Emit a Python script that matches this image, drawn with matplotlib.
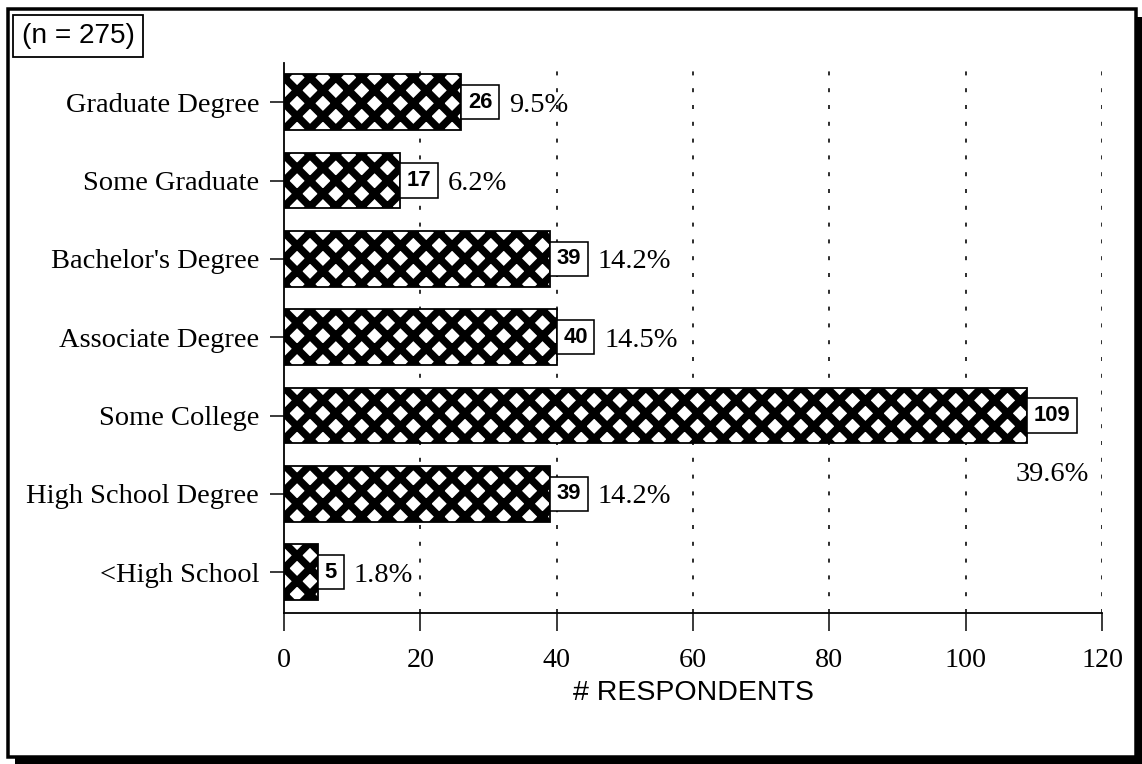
import matplotlib
matplotlib.use("Agg")
import matplotlib.pyplot as plt
from matplotlib.patches import Rectangle

# Education level of respondents
categories = ["<High School", "High School Degree", "Some College",
              "Associate Degree", "Bachelor's Degree", "Some Graduate",
              "Graduate Degree"]
counts = [5, 39, 109, 40, 39, 17, 26]
percents = ["1.8%", "14.2%", "39.6%", "14.5%", "14.2%", "6.2%", "9.5%"]
x_ticks = [0, 20, 40, 60, 80, 100, 120]
sample_label = "(n = 275)"
x_title = "# RESPONDENTS"

# The hatch tile follows the dpi, so the dpi sets the diamond size
DPI = 155
W, H = 1142, 764


def pt(px):
    """Convert a size in output pixels to points."""
    return px * 72.0 / DPI


plt.rcParams["hatch.linewidth"] = pt(7.5)
plt.rcParams["hatch.color"] = "black"

SERIF = ["Liberation Serif", "DejaVu Serif"]
SANS = ["Liberation Sans", "DejaVu Sans"]

fig = plt.figure(figsize=(W / DPI, H / DPI), dpi=DPI)
fig.patch.set_facecolor("white")


# Page frame with drop shadow
def px_rect(x0, y0, x1, y1, **kw):
    return Rectangle((x0 / W, 1 - y1 / H), (x1 - x0) / W, (y1 - y0) / H,
                     transform=fig.transFigure, **kw)


fig.patches.append(px_rect(15, 17, 1142, 764, facecolor="black",
                           edgecolor="none", zorder=-3))
fig.patches.append(px_rect(8, 9, 1136, 757, facecolor="white",
                           edgecolor="black", linewidth=pt(3.5), zorder=-2))

ax = fig.add_axes([284 / W, (H - 613) / H, 818 / W, 550 / H])
ax.set_facecolor("none")
ax.set_zorder(2)

ypos = list(range(len(categories)))
ax.barh(ypos, counts, height=0.71, color="white", edgecolor="black",
        hatch="xx", linewidth=pt(1.8), zorder=3)

ax.set_xlim(0, 120)
ax.set_ylim(-0.52, 6.5)
ax.set_xticks(x_ticks)
ax.set_xticklabels([str(t) for t in x_ticks], family=SERIF, fontsize=pt(28))
ax.set_yticks(ypos)
ax.set_yticklabels(categories, family=SERIF, fontsize=pt(28.5))

for s in ("top", "right"):
    ax.spines[s].set_visible(False)
for s in ("left", "bottom"):
    ax.spines[s].set_linewidth(pt(1.8))
    ax.spines[s].set_zorder(4)

ax.tick_params(axis="x", direction="out", length=pt(18), width=pt(1.5),
               pad=pt(17))
ax.tick_params(axis="y", direction="out", length=pt(14), width=pt(1.5),
               pad=pt(11))

for t in x_ticks[1:]:
    ax.axvline(t, color="black", linewidth=pt(1.6),
               linestyle=(0, (2.5, 8)), zorder=1)

# Boxed counts and percentage labels
num_px = 22
box_pad = 0.3
for y, v, p in zip(ypos, counts, percents):
    num = ax.annotate(str(v), xy=(v, y), xytext=(pt(box_pad * num_px), 0),
                      textcoords="offset points", ha="left", va="center",
                      family=SANS, fontsize=pt(num_px), fontweight="bold",
                      zorder=5,
                      bbox=dict(boxstyle=f"square,pad={box_pad}",
                                facecolor="white", edgecolor="black",
                                linewidth=pt(1.6)))
    if v > 100:
        ax.annotate(p, xy=(0.5, 0), xycoords=num, xytext=(0, -pt(36)),
                    textcoords="offset points", ha="center", va="top",
                    family=SERIF, fontsize=pt(28.5), zorder=5)
    else:
        ax.annotate(p, xy=(1, 0.5), xycoords=num,
                    xytext=(pt(box_pad * num_px + 10), -pt(3)),
                    textcoords="offset points", ha="left", va="center",
                    family=SERIF, fontsize=pt(28.5), zorder=5)

ax.set_xlabel(x_title, family=SANS, fontsize=pt(28.5), labelpad=pt(7))

fig.text(78 / W, 1 - 36 / H, sample_label, family=SANS, fontsize=pt(28),
         ha="center", va="center", zorder=5,
         bbox=dict(boxstyle="square,pad=0.3", facecolor="white",
                   edgecolor="black", linewidth=pt(1.8)))

fig.savefig("out.png", dpi=DPI, facecolor="white")
